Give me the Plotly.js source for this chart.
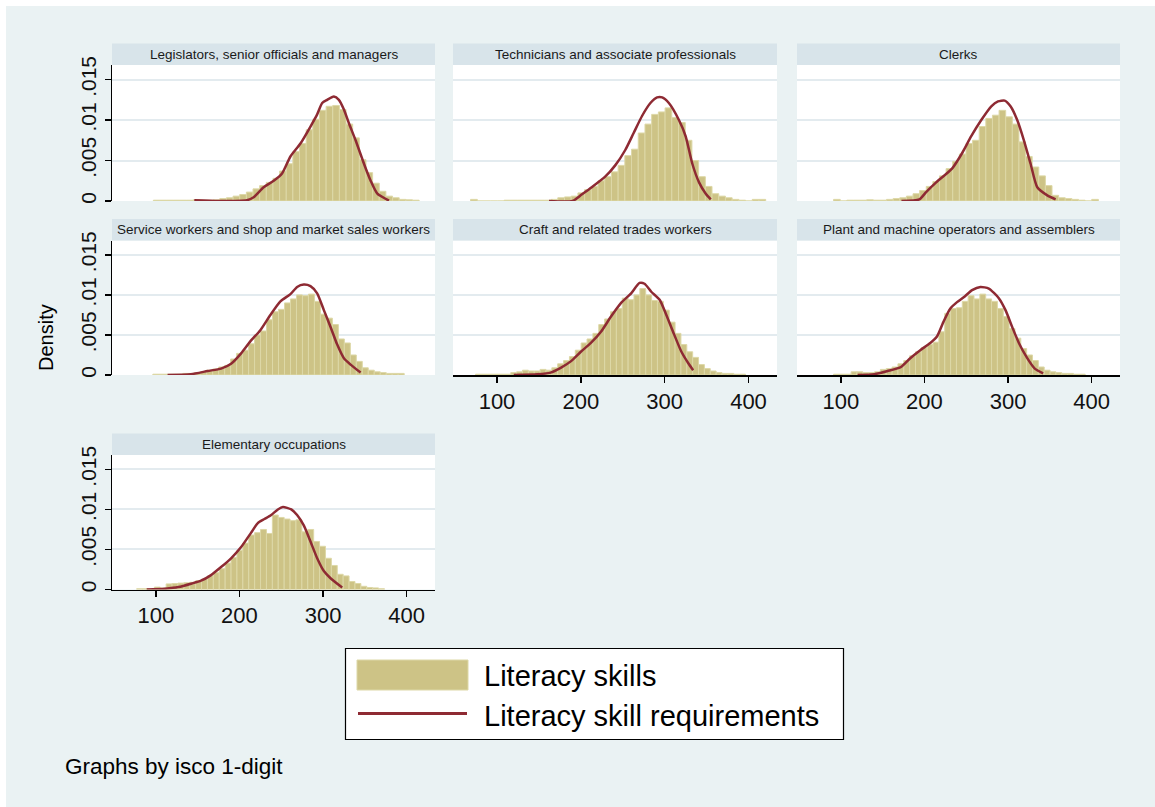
<!DOCTYPE html>
<html><head><meta charset="utf-8">
<script src="https://cdn.plot.ly/plotly-3.0.1.min.js"></script>
<style>html,body{margin:0;padding:0;background:#eaf2f3;overflow:hidden}</style>
</head><body><div id="chart" style="width:1155px;height:807px"></div>
<script>
// ---------- DATA ----------
const panelTitles = [
  "Legislators, senior officials and managers",
  "Technicians and associate professionals",
  "Clerks",
  "Service workers and shop and market sales workers",
  "Craft and related trades workers",
  "Plant and machine operators and assemblers",
  "Elementary occupations"
];
const legendLabels = ["Literacy skills", "Literacy skill requirements"];
const noteText = "Graphs by isco 1-digit";
const yTickVals = [0, 0.005, 0.01, 0.015];
const yTickText = ["0", ".005", ".01", ".015"];
const xTickVals = [100, 200, 300, 400];

// histogram bins (first edge, width) per panel
const binStart = [97, 68.5, 91.3, 96.4, 74.4, 91.3, 77];
const binWidth = [7.95, 8.0, 7.92, 7.16, 7.0, 7.0, 7.06];

// Literacy skills: bar densities
const litLegislators = [0.0001,0.0001,0.0001,0.0001,0.0001,0.0001,0.00015,0.0001,0.0001,0.00015,0.0003,0.0004,0.0006,0.0008,0.0011,0.0015,0.0019,0.0023,0.0028,0.0037,0.0046,0.0061,0.0071,0.0088,0.0101,0.0112,0.0117,0.0118,0.0113,0.0095,0.0078,0.0051,0.0035,0.0022,0.0012,0.0006,0.0004,0.0002,0.00015,0.0001];
const litTechnicians = [0.0002,0,0,0,0,0.0001,0.0001,0.0001,0.0001,0.0001,0.0001,0.0001,0.0002,0.0004,0.0005,0.0006,0.001,0.0014,0.0018,0.0025,0.003,0.0036,0.0044,0.0056,0.0064,0.0084,0.0095,0.0107,0.011,0.0115,0.0103,0.0097,0.0075,0.005,0.003,0.0018,0.0009,0.0006,0.0004,0.0002,0.0001,0,0.0002,0.0002];
const litClerks = [0.0002,0,0.0001,0.0001,0.0001,0.00015,0.0001,0.0001,0.0002,0.0003,0.0004,0.0006,0.0009,0.0013,0.0018,0.0024,0.0031,0.004,0.0049,0.0058,0.0071,0.0075,0.0092,0.0102,0.0106,0.0112,0.0104,0.0095,0.0073,0.0055,0.0042,0.0031,0.0019,0.0007,0.0004,0.0003,0.0002,0.0001,0,0.0002];
const litService = [0.0001,0.0001,0.0001,0.0001,0.0001,0.0002,0.0002,0.0003,0.0004,0.0006,0.00075,0.001,0.0012,0.002,0.0027,0.0031,0.0039,0.005,0.0055,0.0069,0.0079,0.0082,0.009,0.0095,0.01,0.0099,0.0101,0.0092,0.0076,0.0071,0.0063,0.0045,0.004,0.0025,0.0017,0.0009,0.0006,0.0004,0.0003,0.0002,0.0002,0.0002];
const litCraft = [0.0001,0.0001,0.0001,0.0001,0.0001,0.0001,0.0003,0.0004,0.0006,0.0005,0.0005,0.0007,0.0006,0.0009,0.0014,0.0018,0.0023,0.0031,0.004,0.0045,0.0052,0.0063,0.007,0.0079,0.0083,0.0096,0.0094,0.01,0.0108,0.01,0.0093,0.0092,0.0081,0.0066,0.0052,0.0038,0.0029,0.0022,0.0013,0.0008,0.0005,0.0003,0.0002,0.0002,0.0001,0.0001];
const litPlant = [0.0001,0.0001,0.0001,0.0004,0.0004,0.0003,0.0003,0.0004,0.0007,0.0008,0.001,0.0014,0.0018,0.0024,0.0029,0.0034,0.0038,0.0041,0.0054,0.0077,0.0083,0.0084,0.0092,0.0099,0.0095,0.0101,0.0095,0.0092,0.0083,0.0073,0.0058,0.0046,0.0033,0.0025,0.0018,0.001,0.0006,0.0004,0.0003,0.0002,0.0002,0.0001,0.0001];
const litElementary = [0.0001,0.0001,0,0.0003,0.0002,0.0007,0.00075,0.0008,0.00085,0.0009,0.0011,0.0013,0.0017,0.0021,0.0026,0.0033,0.004,0.0049,0.0058,0.0068,0.0071,0.0075,0.007,0.0093,0.009,0.0088,0.0086,0.0087,0.0072,0.0075,0.006,0.0054,0.0039,0.003,0.0019,0.0017,0.001,0.00075,0.0004,0.00025,0.0002,0.0001];

// Literacy skill requirements: density curves
const reqXLegislators = [146,175,209,217,229,241,251,261,273,285,293,299,305,313,319,325,331,339,349,357,365,379];
const reqYLegislators = [0.0001,0,0.0001,0.00046,0.0017,0.0025,0.0034,0.0055,0.0071,0.0092,0.0107,0.0121,0.0125,0.0129,0.0125,0.0113,0.0096,0.0075,0.0046,0.0025,0.0009,0.00005];
const reqXTechnicians = [162,190,201,213,229,241,253,263,273,283,291,297,305,317,325,333,341,349,355];
const reqYTechnicians = [0,0,0.0008,0.0017,0.003,0.0044,0.0063,0.0084,0.0105,0.0121,0.0128,0.0128,0.0121,0.01,0.008,0.0046,0.0023,0.0009,0.0002];
const reqXClerks = [172.5,194,202,214,233,245,256,268,280,288,296,303,311,319,327,335,347,357];
const reqYClerks = [0,0.0002,0.0011,0.0023,0.004,0.0059,0.008,0.01,0.0117,0.0123,0.0124,0.0117,0.01,0.0075,0.0046,0.0017,0.0007,0.0002];
const reqXService = [114,142,162,178,190,202,213,225,237,249,261,269,277,285,293,301,309,317,325,333,345];
const reqYService = [0,0.0001,0.0005,0.0008,0.0014,0.0027,0.0042,0.0056,0.0075,0.0092,0.0101,0.011,0.0113,0.0111,0.0102,0.0081,0.006,0.0038,0.0021,0.0013,0.0003];
const reqXCraft = [120,148,164,176,188,200,212,224,236,248,260,270,276,284,294,302,310,320,328,334];
const reqYCraft = [0,0.0001,0.0003,0.0009,0.0017,0.0029,0.004,0.0054,0.0073,0.009,0.0102,0.0115,0.0114,0.0104,0.0094,0.0075,0.0054,0.0029,0.0015,0.0006];
const reqXPlant = [120,140,156,172,183,195,207,215,223,231,239,247,257,267,277,289,297,305,313,323,332,342];
const reqYPlant = [0,0.0001,0.0005,0.001,0.0021,0.0031,0.004,0.0048,0.0067,0.0083,0.0091,0.0097,0.0106,0.011,0.0108,0.0096,0.0081,0.006,0.004,0.0021,0.0008,0.0002];
const reqXElementary = [89,111,127,143,154,166,178,190,202,214,222,230,238,246,252,262,269,277,285,293,301,309,321,323];
const reqYElementary = [0,0.0001,0.0003,0.00075,0.0011,0.0018,0.0028,0.0039,0.0053,0.0071,0.0083,0.0088,0.0093,0.01,0.0103,0.01,0.0093,0.008,0.006,0.0039,0.0023,0.0014,0.0004,0.00025];

const litSeries = [litLegislators, litTechnicians, litClerks, litService, litCraft, litPlant, litElementary];
const reqXSeries = [reqXLegislators, reqXTechnicians, reqXClerks, reqXService, reqXCraft, reqXPlant, reqXElementary];
const reqYSeries = [reqYLegislators, reqYTechnicians, reqYClerks, reqYService, reqYCraft, reqYPlant, reqYElementary];

// ---------- STYLE / LAYOUT ----------
const W = 1155, H = 807;
const BG = '#eaf2f3', STRIP = '#d8e4ea', GRID = '#e3ebef';
const BAR = '#cdc386', BAREDGE = '#ddd8a7', RED = '#8e2a33';
const FONT = 'Liberation Sans, Arial, Helvetica, sans-serif';
const cols = [[112,435],[453,777],[797,1120]];
const rows = [[65,201],[240.5,375],[455,589.5]];   // plot area top/bottom in px
const stripH = 21.5;
const pos = [[0,0],[1,0],[2,0],[0,1],[1,1],[2,1],[0,2]];
const showX = [false,false,false,false,true,true,true];
const showY = [true,false,false,true,false,false,true];
const fx = p => p / W, fy = p => 1 - p / H;

const traces = [];
const layout = {
  width: W, height: H,
  margin: {l:0, r:0, t:0, b:0},
  paper_bgcolor: BG, plot_bgcolor: '#ffffff',
  showlegend: false,
  font: {family: FONT, color: '#000'},
  shapes: [], annotations: []
};

for (let i = 0; i < 7; i++) {
  const n = i + 1, sfx = n === 1 ? '' : String(n);
  const [c, r] = pos[i];
  const centers = litSeries[i].map((_, k) => binStart[i] + (k + 0.5) * binWidth[i]);
  traces.push({
    type: 'bar', x: centers, y: litSeries[i], width: binWidth[i],
    xaxis: 'x' + sfx, yaxis: 'y' + sfx,
    marker: {color: BAR, line: {color: BAREDGE, width: 1}},
    hoverinfo: 'skip', name: legendLabels[0]
  });
  traces.push({
    type: 'scatter', mode: 'lines', x: reqXSeries[i], y: reqYSeries[i],
    xaxis: 'x' + sfx, yaxis: 'y' + sfx,
    line: {color: RED, width: 2.5, shape: 'spline', smoothing: 0.6},
    hoverinfo: 'skip', name: legendLabels[1]
  });
  layout['xaxis' + sfx] = {
    domain: [fx(cols[c][0]), fx(cols[c][1])], anchor: 'y' + sfx,
    range: [47.5, 434], showgrid: false, zeroline: false,
    showline: showX[i], linecolor: '#000', linewidth: 1.5,
    ticks: showX[i] ? 'outside' : '', ticklen: 6, tickwidth: 1.5, tickcolor: '#000',
    tickvals: xTickVals, showticklabels: showX[i],
    tickfont: {size: 22, family: FONT, color: '#111'}, fixedrange: true
  };
  layout['yaxis' + sfx] = {
    domain: [fy(rows[r][1]), fy(rows[r][0])], anchor: 'x' + sfx,
    range: [0, 0.0168], showgrid: true, gridcolor: GRID, gridwidth: 2, zeroline: false,
    showline: showY[i], linecolor: '#000', linewidth: 1.5,
    ticks: showY[i] ? 'outside' : '', ticklen: 6, tickwidth: 1.5, tickcolor: '#000',
    tickvals: yTickVals, ticktext: yTickText, showticklabels: showY[i], tickangle: -90,
    tickfont: {size: 21, family: FONT, color: '#111'}, fixedrange: true
  };
  // strip header
  layout.shapes.push({type:'rect', xref:'paper', yref:'paper',
    x0: fx(cols[c][0]), x1: fx(cols[c][1]), y0: fy(rows[r][0]), y1: fy(rows[r][0] - stripH),
    fillcolor: STRIP, line: {width: 0}});
  layout.annotations.push({xref:'paper', yref:'paper', showarrow:false,
    x: fx((cols[c][0] + cols[c][1]) / 2), y: fy(rows[r][0] - stripH / 2),
    xanchor:'center', yanchor:'middle', text: panelTitles[i],
    font: {size: 13.5, family: FONT, color: '#1a1a1a'}});
}

// Y axis title
layout.annotations.push({xref:'paper', yref:'paper', showarrow:false,
  x: fx(46), y: fy(338), textangle: -90, xanchor:'center', yanchor:'middle',
  text: 'Density', font: {size: 20, family: FONT, color: '#000'}});

// white outer border (top & left)
layout.shapes.push({type:'rect', xref:'paper', yref:'paper', x0:0, x1:1, y0:fy(6), y1:1, fillcolor:'#ffffff', line:{width:0}});
layout.shapes.push({type:'rect', xref:'paper', yref:'paper', x0:0, x1:fx(6), y0:0, y1:1, fillcolor:'#ffffff', line:{width:0}});

// legend box
layout.shapes.push({type:'rect', xref:'paper', yref:'paper', x0:fx(345.5), x1:fx(843.5), y0:fy(739.5), y1:fy(648.5),
  fillcolor:'#ffffff', line:{color:'#000', width:1.2}});
layout.shapes.push({type:'rect', xref:'paper', yref:'paper', x0:fx(357), x1:fx(468), y0:fy(690), y1:fy(660),
  fillcolor: BAR, line:{color: BAREDGE, width:1}});
layout.shapes.push({type:'line', xref:'paper', yref:'paper', x0:fx(358), x1:fx(467), y0:fy(713.5), y1:fy(713.5),
  line:{color: RED, width:3}});
layout.annotations.push({xref:'paper', yref:'paper', showarrow:false, x: fx(482), y: fy(676),
  xanchor:'left', yanchor:'middle', text: legendLabels[0], font:{size: 29, family: FONT, color:'#000'}});
layout.annotations.push({xref:'paper', yref:'paper', showarrow:false, x: fx(482), y: fy(716),
  xanchor:'left', yanchor:'middle', text: legendLabels[1], font:{size: 29, family: FONT, color:'#000'}});

// note
layout.annotations.push({xref:'paper', yref:'paper', showarrow:false, x: fx(63), y: fy(766),
  xanchor:'left', yanchor:'middle', text: noteText, font:{size: 22.5, family: FONT, color:'#000'}});

Plotly.newPlot('chart', traces, layout, {displayModeBar: false, staticPlot: true});
</script></body></html>
